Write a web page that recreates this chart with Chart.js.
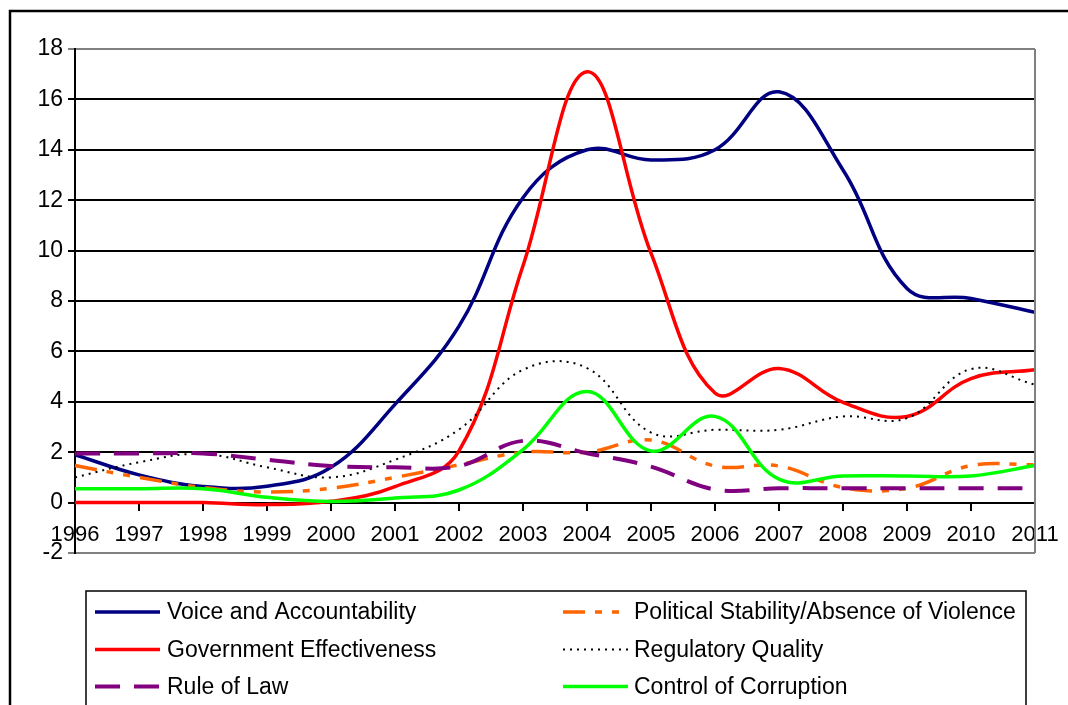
<!DOCTYPE html>
<html>
<head>
<meta charset="utf-8">
<title>Governance indicators 1996-2011</title>
<script src="https://cdn.jsdelivr.net/npm/chart.js@4.4.1/dist/chart.umd.min.js"></script>
<style>
    html, body { margin: 0; padding: 0; background: #fff; }
    canvas { display: block; }
</style>
</head>
<body>
<canvas id="chart" width="1068" height="705"></canvas>
<script>
(function () {
    'use strict';

    // Categories (years)
    var years = ['1996', '1997', '1998', '1999', '2000', '2001', '2002', '2003',
                 '2004', '2005', '2006', '2007', '2008', '2009', '2010', '2011'];

    // Series values
    var voiceAccountability   = [1.9, 1.1, 0.64, 0.65, 1.4, 3.9, 7.0, 12.1, 14.0, 13.6, 14.0, 16.3, 13.2, 8.5, 8.1, 7.55];
    var politicalStability    = [1.47, 1.0, 0.6, 0.42, 0.57, 1.0, 1.5, 2.0, 2.0, 2.48, 1.45, 1.45, 0.6, 0.57, 1.47, 1.5];
    var governmentEffect      = [0, 0, 0, -0.08, 0.05, 0.63, 2.05, 9.4, 17.1, 9.9, 4.35, 5.32, 3.98, 3.42, 4.92, 5.27];
    var regulatoryQuality     = [1.0, 1.6, 1.93, 1.4, 1.0, 1.7, 2.9, 5.27, 5.34, 2.78, 2.89, 2.89, 3.42, 3.35, 5.3, 4.68];
    var ruleOfLaw             = [1.95, 1.95, 1.95, 1.7, 1.45, 1.4, 1.45, 2.45, 1.96, 1.43, 0.52, 0.57, 0.57, 0.57, 0.57, 0.57];
    var controlCorruption     = [0.55, 0.55, 0.55, 0.21, 0.04, 0.18, 0.5, 2.1, 4.41, 2.05, 3.42, 0.93, 1.06, 1.06, 1.06, 1.47];

    // Tick labels
    var yTicks = [-2, 0, 2, 4, 6, 8, 10, 12, 14, 16, 18];

    var seriesNames = [
        'Voice and Accountability',
        'Political Stability/Absence of Violence',
        'Government Effectiveness',
        'Regulatory Quality',
        'Rule of Law',
        'Control of Corruption'
    ];
    var seriesData = [voiceAccountability, politicalStability, governmentEffect,
                      regulatoryQuality, ruleOfLaw, controlCorruption];

    var seriesStyle = [
        { color: '#000080', width: 3.5, dash: [] },
        { color: '#FF6600', width: 3.5, dash: [22, 10, 7, 10, 7, 10] },
        { color: '#FF0000', width: 3.5, dash: [] },
        { color: '#000000', width: 2, dash: [2, 5] },
        { color: '#800080', width: 4, dash: [25, 14] },
        { color: '#00FF00', width: 3.5, dash: [] }
    ];

    var FONT = "'Liberation Sans', Arial, sans-serif";

    var datasets = seriesData.map(function (values, i) {
        var st = seriesStyle[i];
        return {
            label: seriesNames[i],
            data: values,
            borderColor: st.color,
            backgroundColor: st.color,
            borderWidth: st.width,
            borderDash: st.dash,
            borderCapStyle: 'butt',
            borderJoinStyle: 'round',
            tension: 0.4,
            pointRadius: 0,
            fill: false,
            order: seriesData.length - i
        };
    });

    // Outer frame, plot frame (right edge) and the boxed two-column legend
    var framePlugin = {
        id: 'frame',
        beforeDraw: function (chart) {
            var ctx = chart.ctx;
            ctx.save();
            ctx.fillStyle = '#fff';
            ctx.fillRect(0, 0, chart.width, chart.height);
            ctx.strokeStyle = '#000';
            ctx.lineWidth = 2.5;
            ctx.beginPath();
            ctx.moveTo(10, chart.height);
            ctx.lineTo(10, 11);
            ctx.lineTo(chart.width, 11);
            ctx.stroke();
            ctx.restore();
        },
        afterDraw: function (chart) {
            var ctx = chart.ctx;
            var area = chart.chartArea;
            ctx.save();
            ctx.strokeStyle = '#808080';
            ctx.lineWidth = 2;
            ctx.beginPath();
            ctx.moveTo(area.right, area.top);
            ctx.lineTo(area.right, area.bottom);
            ctx.stroke();

            // legend box
            ctx.strokeStyle = '#000';
            ctx.lineWidth = 1.5;
            ctx.beginPath();
            ctx.moveTo(86, chart.height + 2);
            ctx.lineTo(86, 591);
            ctx.lineTo(1026, 591);
            ctx.lineTo(1026, chart.height + 2);
            ctx.stroke();

            var rowY = [612, 649.5, 686.5];
            var colSample = [95, 563];
            var colText = [167, 634];
            ctx.font = '23px ' + FONT;
            ctx.textBaseline = 'middle';
            ctx.textAlign = 'left';
            chart.data.datasets.forEach(function (ds, i) {
                var row = Math.floor(i / 2);
                var col = i % 2;
                var y = rowY[row];
                ctx.strokeStyle = ds.borderColor;
                ctx.lineWidth = ds.borderWidth;
                ctx.lineCap = 'butt';
                ctx.setLineDash(ds.borderDash || []);
                ctx.beginPath();
                ctx.moveTo(colSample[col], y);
                ctx.lineTo(colSample[col] + 65, y);
                ctx.stroke();
                ctx.setLineDash([]);
                ctx.fillStyle = '#000';
                ctx.fillText(ds.label, colText[col], y + 1);
            });
            ctx.restore();
        }
    };

    new Chart(document.getElementById('chart'), {
        type: 'line',
        data: { labels: years, datasets: datasets },
        plugins: [framePlugin],
        options: {
            responsive: false,
            animation: false,
            layout: { padding: { left: 0, right: 33, top: 49, bottom: 152 } },
            plugins: {
                legend: { display: false },
                tooltip: { enabled: false },
                title: { display: false }
            },
            scales: {
                x: {
                    type: 'category',
                    position: { y: 0 },
                    offset: false,
                    afterFit: function (scale) {
                        scale.paddingLeft = 0;
                        scale.paddingRight = 0;
                    },
                    grid: {
                        display: true,
                        drawOnChartArea: false,
                        drawTicks: true,
                        tickLength: 7,
                        color: '#000',
                        lineWidth: 2
                    },
                    border: { display: true, color: '#000', width: 2 },
                    ticks: {
                        color: '#000',
                        font: { family: FONT, size: 22 },
                        padding: 12,
                        maxRotation: 0,
                        autoSkip: false
                    }
                },
                y: {
                    min: yTicks[0],
                    max: yTicks[yTicks.length - 1],
                    afterFit: function (scale) { scale.width = 75; },
                    afterBuildTicks: function (scale) {
                        scale.ticks = yTicks.map(function (v) { return { value: v }; });
                    },
                    grid: {
                        color: function (c) {
                            var v = c.tick ? c.tick.value : 0;
                            return (v === yTicks[0] || v === yTicks[yTicks.length - 1]) ? '#808080' : '#000';
                        },
                        lineWidth: 2,
                        tickLength: 7,
                        drawTicks: true
                    },
                    border: { display: true, color: '#000', width: 2 },
                    ticks: {
                        color: '#000',
                        font: { family: FONT, size: 23 },
                        padding: 5
                    }
                }
            }
        }
    });
})();
</script>
</body>
</html>
